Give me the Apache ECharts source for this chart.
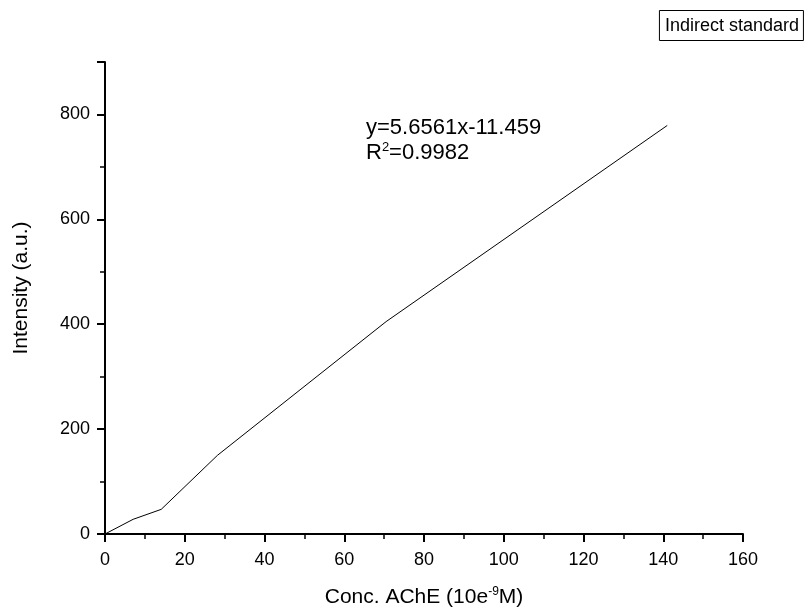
<!DOCTYPE html>
<html>
<head>
<meta charset="utf-8">
<script src="https://cdn.jsdelivr.net/npm/echarts@6/dist/echarts.min.js"></script>
<style>
  html, body { margin: 0; padding: 0; background: #fff; }
  #chart { width: 808px; height: 610px; }
</style>
</head>
<body>
<div id="chart"></div>
<script>
// Calibration data: AChE concentration vs. measured intensity
const concentrations = [0, 7.05, 14.1, 28.2, 70.5, 141];
const intensities = [0, 28, 47, 150, 405, 779];
const xTicks = [0, 20, 40, 60, 80, 100, 120, 140, 160];
const yTicks = [0, 200, 400, 600, 800];
const seriesName = 'Indirect standard';
const fitEquation = 'y=5.6561x-11.459';
const fitR2 = '0.9982';

const font = 'Arial, "Liberation Sans", sans-serif';
const chart = echarts.init(document.getElementById('chart'), null, { renderer: 'canvas' });

const axisCommon = {
  axisLine: { show: true, onZero: false, lineStyle: { color: '#000', width: 2 } },
  axisTick: { show: true, inside: false, length: 8, lineStyle: { color: '#000', width: 2 } },
  minorTick: { show: true, splitNumber: 2, length: 5, lineStyle: { color: '#000', width: 1.5 } },
  splitLine: { show: false },
  axisLabel: { color: '#000', fontSize: 18, fontFamily: font }
};

chart.setOption({
  animation: false,
  backgroundColor: '#fff',
  title: {
    text: seriesName,
    right: 4,
    top: 10,
    borderColor: '#000',
    borderWidth: 1,
    padding: [7, 5, 6, 6],
    textStyle: { color: '#000', fontSize: 18, fontWeight: 'normal', fontFamily: font }
  },
  grid: { left: 105, right: 65, top: 62, bottom: 76, containLabel: false, outerBoundsMode: 'none' },
  xAxis: Object.assign({}, axisCommon, {
    type: 'value',
    min: xTicks[0],
    max: xTicks[xTicks.length - 1],
    interval: xTicks[1] - xTicks[0],
    name: 'Conc. AChE (10e{sup|-9}M)',
    nameLocation: 'middle',
    nameGap: 52,
    nameTextStyle: {
      color: '#000', fontSize: 21, fontFamily: font,
      rich: { sup: { fontSize: 12, fontFamily: font, color: '#000', padding: [0, 0, 10, 0] } }
    },
    axisLabel: Object.assign({}, axisCommon.axisLabel, { margin: 17 })
  }),
  yAxis: Object.assign({}, axisCommon, {
    type: 'value',
    min: yTicks[0],
    max: 900,
    interval: yTicks[1] - yTicks[0],
    axisLabel: Object.assign({}, axisCommon.axisLabel, {
      margin: 15,
      formatter: v => (yTicks.indexOf(v) >= 0 ? String(v) : '')
    })
  }),
  graphic: [
    {
      // vertical axis title
      type: 'text',
      x: 21,
      y: 288,
      rotation: Math.PI / 2,
      style: {
        text: 'Intensity (a.u.)',
        fill: '#000',
        font: '21px ' + font,
        align: 'center',
        verticalAlign: 'middle'
      }
    },
    {
      type: 'text',
      left: 366,
      top: 117,
      style: {
        text: fitEquation,
        fill: '#000',
        font: '22px ' + font
      }
    },
    {
      type: 'text',
      left: 366,
      top: 141,
      style: {
        text: 'R{sup|2}=' + fitR2,
        fill: '#000',
        font: '22px ' + font,
        rich: { sup: { fontSize: 13, fontFamily: font, fill: '#000', padding: [0, 0, 10, 0] } }
      }
    }
  ],
  series: [{
    name: seriesName,
    type: 'line',
    data: concentrations.map((c, i) => [c, intensities[i]]),
    symbol: 'none',
    lineStyle: { color: '#000', width: 1 },
    clip: false
  }]
});
</script>
</body>
</html>
